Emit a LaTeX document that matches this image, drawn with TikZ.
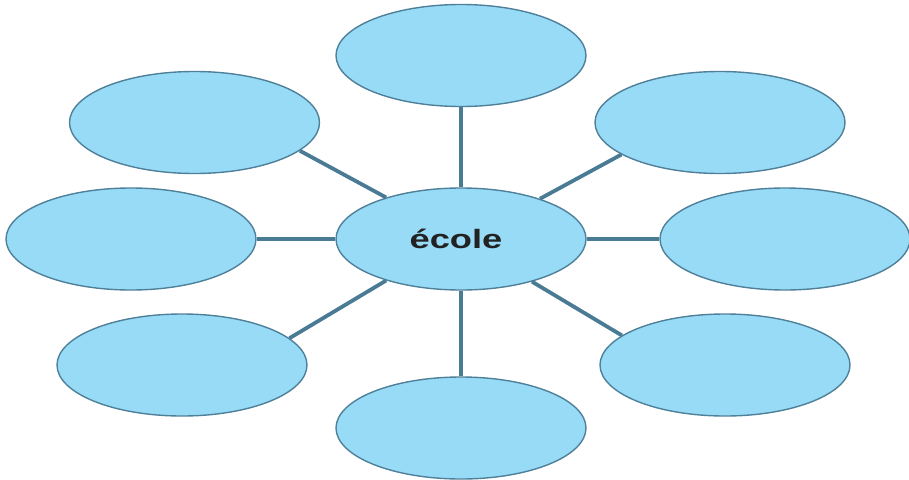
\documentclass[tikz,border=0pt]{standalone}
\usepackage{fontspec}
\setmainfont{Liberation Sans}
\usetikzlibrary{shapes.geometric}
\definecolor{bubfill}{HTML}{98DBF6}
\definecolor{bubline}{HTML}{4F8099}
\definecolor{connline}{HTML}{4A7B94}
\definecolor{txt}{HTML}{222222}
\tikzset{
  bubble/.style={ellipse, draw=bubline, fill=bubfill, line width=1.4pt,
    minimum width=250pt, minimum height=102pt, inner sep=0pt},
  conn/.style={draw=connline, line width=3.8pt}
}
\begin{document}
\begin{tikzpicture}[x=1pt,y=-1pt]
\useasboundingbox (0,0) rectangle (909,479);
\node[bubble] (c)  at (461,239) {};
\node[text=txt, inner sep=0pt] (lab) at (456,239) {\fontsize{26.5}{30}\selectfont\bfseries\scalebox{1.37}[1]{école}};
\node[bubble] (t)  at (461,55.5) {};
\node[bubble] (b)  at (461,428) {};
\node[bubble] (tl) at (194.5,122.5) {};
\node[bubble] (tr) at (720,122.5) {};
\node[bubble] (l)  at (131,239) {};
\node[bubble] (r)  at (785,239) {};
\node[bubble] (bl) at (182,365) {};
\node[bubble] (br) at (725,365) {};
\draw[conn] (c.90) -- (t.-90);
\draw[conn] (c.-90) -- (b.90);
\draw[conn] (c.180) -- (l.0);
\draw[conn] (c.0) -- (r.180);
\draw[conn] (c.151) -- (tl.-15);
\draw[conn] (c.27) -- (tr.198.5);
\draw[conn] (c.209.6) -- (bl.14.4);
\draw[conn] (c.-31.3) -- (br.164.8);
\end{tikzpicture}
\end{document}
